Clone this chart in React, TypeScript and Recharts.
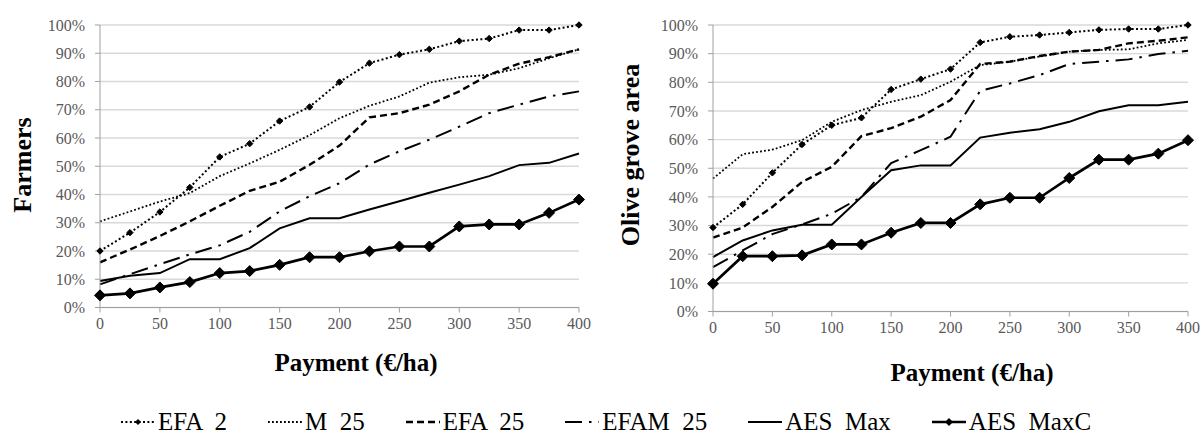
import React from 'react';
import { LineChart, Line, XAxis, YAxis, CartesianGrid } from 'recharts';

const payment = [0, 25, 50, 75, 100, 125, 150, 175, 200, 225, 250, 275, 300, 325, 350, 375, 400];
const xTicks = [0, 50, 100, 150, 200, 250, 300, 350, 400];
const yTicks = [0, 10, 20, 30, 40, 50, 60, 70, 80, 90, 100];
const seriesNames = ['EFA  2', 'M  25', 'EFA  25', 'EFAM  25', 'AES  Max', 'AES  MaxC'];

// Farmers (left panel), %
const farmersEFA2 = [20, 26.5, 33.8, 42.5, 53.3, 58, 66, 71, 79.8, 86.5, 89.5, 91.4, 94.3, 95.2, 98.2, 98.2, 100];
const farmersM25 = [30.5, 34, 37.5, 40.5, 46.5, 51, 55.8, 61, 67, 71.4, 74.7, 79.6, 81.5, 82.4, 84.7, 88.2, 91.4];
const farmersEFA25 = [16, 20.5, 25.3, 30.5, 36, 41.3, 44.5, 50.5, 57.3, 67.3, 68.8, 71.8, 76.5, 82.4, 86.3, 88.6, 91.4];
const farmersEFAM25 = [8.2, 11.8, 15.3, 18.8, 22, 26.8, 34, 39.4, 44, 50.6, 55.3, 59.4, 64, 68.8, 71.8, 74.7, 76.5];
const farmersAESMax = [9.4, 11.2, 12.2, 17.1, 17.1, 21, 28, 31.6, 31.6, 34.7, 37.6, 40.6, 43.5, 46.5, 50.4, 51.2, 54.5];
const farmersAESMaxC = [4.3, 5, 7.1, 9, 12.2, 12.9, 15.1, 17.8, 17.8, 19.9, 21.6, 21.6, 28.7, 29.4, 29.4, 33.5, 38.2];

// Olive grove area (right panel), %
const areaEFA2 = [29.3, 37.4, 48.4, 58.3, 65, 67.6, 77.5, 81.1, 84.6, 93.9, 95.9, 96.5, 97.4, 98.3, 98.6, 98.6, 100];
const areaM25 = [46.4, 54.9, 56.5, 59.8, 66.2, 70.3, 73.2, 75.5, 80.2, 86, 87.2, 89, 90.7, 91.3, 91.5, 93.6, 94.8];
const areaEFA25 = [25.8, 29.3, 36.5, 45.2, 50.5, 61.2, 64, 68, 73.8, 86.4, 87.2, 89.2, 90.7, 91.3, 93.6, 94.5, 95.7];
const areaEFAM25 = [15.5, 21.3, 27, 30.4, 34.1, 40, 51.8, 56.3, 61, 77, 79.6, 82.5, 86.4, 87.2, 88, 89.9, 91];
const areaAESMax = [19, 24.8, 28.3, 30.3, 30.3, 40, 49.3, 51, 51, 60.7, 62.4, 63.6, 66.2, 69.9, 72, 72, 73.2];
const areaAESMaxC = [9.7, 19.3, 19.3, 19.6, 23.4, 23.4, 27.5, 30.9, 30.9, 37.4, 39.7, 39.7, 46.6, 53, 53, 55.1, 59.8];

const FONT = "'Liberation Serif', 'Times New Roman', Times, serif";
const keys = ['s0', 's1', 's2', 's3', 's4', 's5'];

const buildRows = (cols: number[][]) =>
  payment.map((p, i) => {
    const row: Record<string, number> = { p };
    cols.forEach((c, j) => (row[keys[j]] = c[i]));
    return row;
  });

const farmersRows = buildRows([farmersEFA2, farmersM25, farmersEFA25, farmersEFAM25, farmersAESMax, farmersAESMaxC]);
const areaRows = buildRows([areaEFA2, areaM25, areaEFA25, areaEFAM25, areaAESMax, areaAESMaxC]);

const diamond = (r: number) => (props: any) => {
  const { cx, cy, index } = props;
  if (cx == null || cy == null) return <g key={index} />;
  return (
    <path
      key={index}
      d={`M${cx},${cy - r}L${cx + r},${cy}L${cx},${cy + r}L${cx - r},${cy}Z`}
      fill="#000"
      stroke="#000"
      strokeWidth={1}
    />
  );
};

const styles = [
  { dash: '2 2.4', width: 2, dot: diamond(3.2) },
  { dash: '1.8 2.2', width: 1.8, dot: false as any },
  { dash: '7 4', width: 2.4, dot: false as any },
  { dash: '17 7 2.5 7', width: 2, dot: false as any },
  { dash: undefined, width: 2, dot: false as any },
  { dash: undefined, width: 2.7, dot: diamond(5.5) },
];

type PanelProps = {
  rows: Record<string, number>[];
  left: number;
  width: number;
  height: number;
  margin: { top: number; right: number; bottom: number; left: number };
  yLabel: string;
  yLabelPos: [number, number];
  xLabelPos: [number, number];
};

const tickStyle = { fill: '#595959', fontSize: 16, fontFamily: FONT };

function Panel({ rows, left, width, height, margin, yLabel, yLabelPos, xLabelPos }: PanelProps) {
  return (
    <div style={{ position: 'absolute', left, top: 0, width, height }}>
      <LineChart width={width} height={height} data={rows} margin={margin} style={{ fontFamily: FONT }}>
        <CartesianGrid vertical={false} stroke="#d9d9d9" strokeWidth={1.4} />
        <XAxis
          dataKey="p"
          type="number"
          domain={[0, 400]}
          ticks={xTicks}
          tick={tickStyle}
          tickSize={5}
          tickMargin={5}
          height={30}
          stroke="#a0a0a0"
          label={{
            content: () => (
              <text
                x={xLabelPos[0]}
                y={xLabelPos[1]}
                textAnchor="middle"
                dominantBaseline="central"
                fontFamily={FONT}
                fontWeight="bold"
                fontSize={25}
                fill="#000"
              >
                Payment (€/ha)
              </text>
            ),
          }}
        />
        <YAxis
          type="number"
          domain={[0, 100]}
          ticks={yTicks}
          tickFormatter={(v: number) => `${v}%`}
          tick={tickStyle}
          tickSize={5}
          tickMargin={10}
          width={60}
          stroke="#a0a0a0"
          label={{
            content: () => (
              <text
                x={yLabelPos[0]}
                y={yLabelPos[1]}
                transform={`rotate(-90 ${yLabelPos[0]} ${yLabelPos[1]})`}
                textAnchor="middle"
                dominantBaseline="central"
                fontFamily={FONT}
                fontWeight="bold"
                fontSize={26}
                fill="#000"
              >
                {yLabel}
              </text>
            ),
          }}
        />
        {keys.map((k, i) => (
          <Line
            key={k}
            dataKey={k}
            name={seriesNames[i]}
            type="linear"
            stroke="#000"
            strokeWidth={styles[i].width}
            strokeDasharray={styles[i].dash}
            dot={styles[i].dot}
            activeDot={false}
            isAnimationActive={false}
          />
        ))}
      </LineChart>
    </div>
  );
}

function LegendIcon({ i }: { i: number }) {
  const s = styles[i];
  return (
    <svg width={34} height={14} style={{ display: 'block' }}>
      <line x1={0} y1={7} x2={34} y2={7} stroke="#000" strokeWidth={s.width} strokeDasharray={s.dash} />
      {i === 0 && <path d="M17,4L20,7L17,10L14,7Z" fill="#000" />}
      {i === 5 && <path d="M17,3L21,7L17,11L13,7Z" fill="#000" />}
    </svg>
  );
}

export default function App() {
  return (
    <div
      style={{
        position: 'absolute',
        left: 0,
        top: 0,
        width: 1203,
        height: 435,
        background: '#fff',
        overflow: 'hidden',
        fontFamily: FONT,
      }}
    >
      <Panel
        rows={farmersRows}
        left={0}
        width={600}
        height={390}
        margin={{ top: 25, right: 21, bottom: 52.5, left: 40 }}
        yLabel="Farmers"
        yLabelPos={[22, 165]}
        xLabelPos={[356, 362]}
      />
      <Panel
        rows={areaRows}
        left={600}
        width={603}
        height={390}
        margin={{ top: 25, right: 15, bottom: 48.5, left: 53 }}
        yLabel="Olive grove area"
        yLabelPos={[30, 155]}
        xLabelPos={[372, 372]}
      />
      <div
        style={{
          position: 'absolute',
          left: 0,
          top: 406,
          width: 1212,
          height: 32,
          display: 'flex',
          justifyContent: 'center',
          alignItems: 'center',
          gap: 41,
          fontFamily: FONT,
          fontSize: 25,
          color: '#000',
        }}
      >
        {seriesNames.map((n, i) => (
          <div key={n} style={{ display: 'flex', alignItems: 'center', gap: 3 }}>
            <LegendIcon i={i} />
            <span style={{ whiteSpace: 'pre', lineHeight: '32px' }}>{n}</span>
          </div>
        ))}
      </div>
    </div>
  );
}
